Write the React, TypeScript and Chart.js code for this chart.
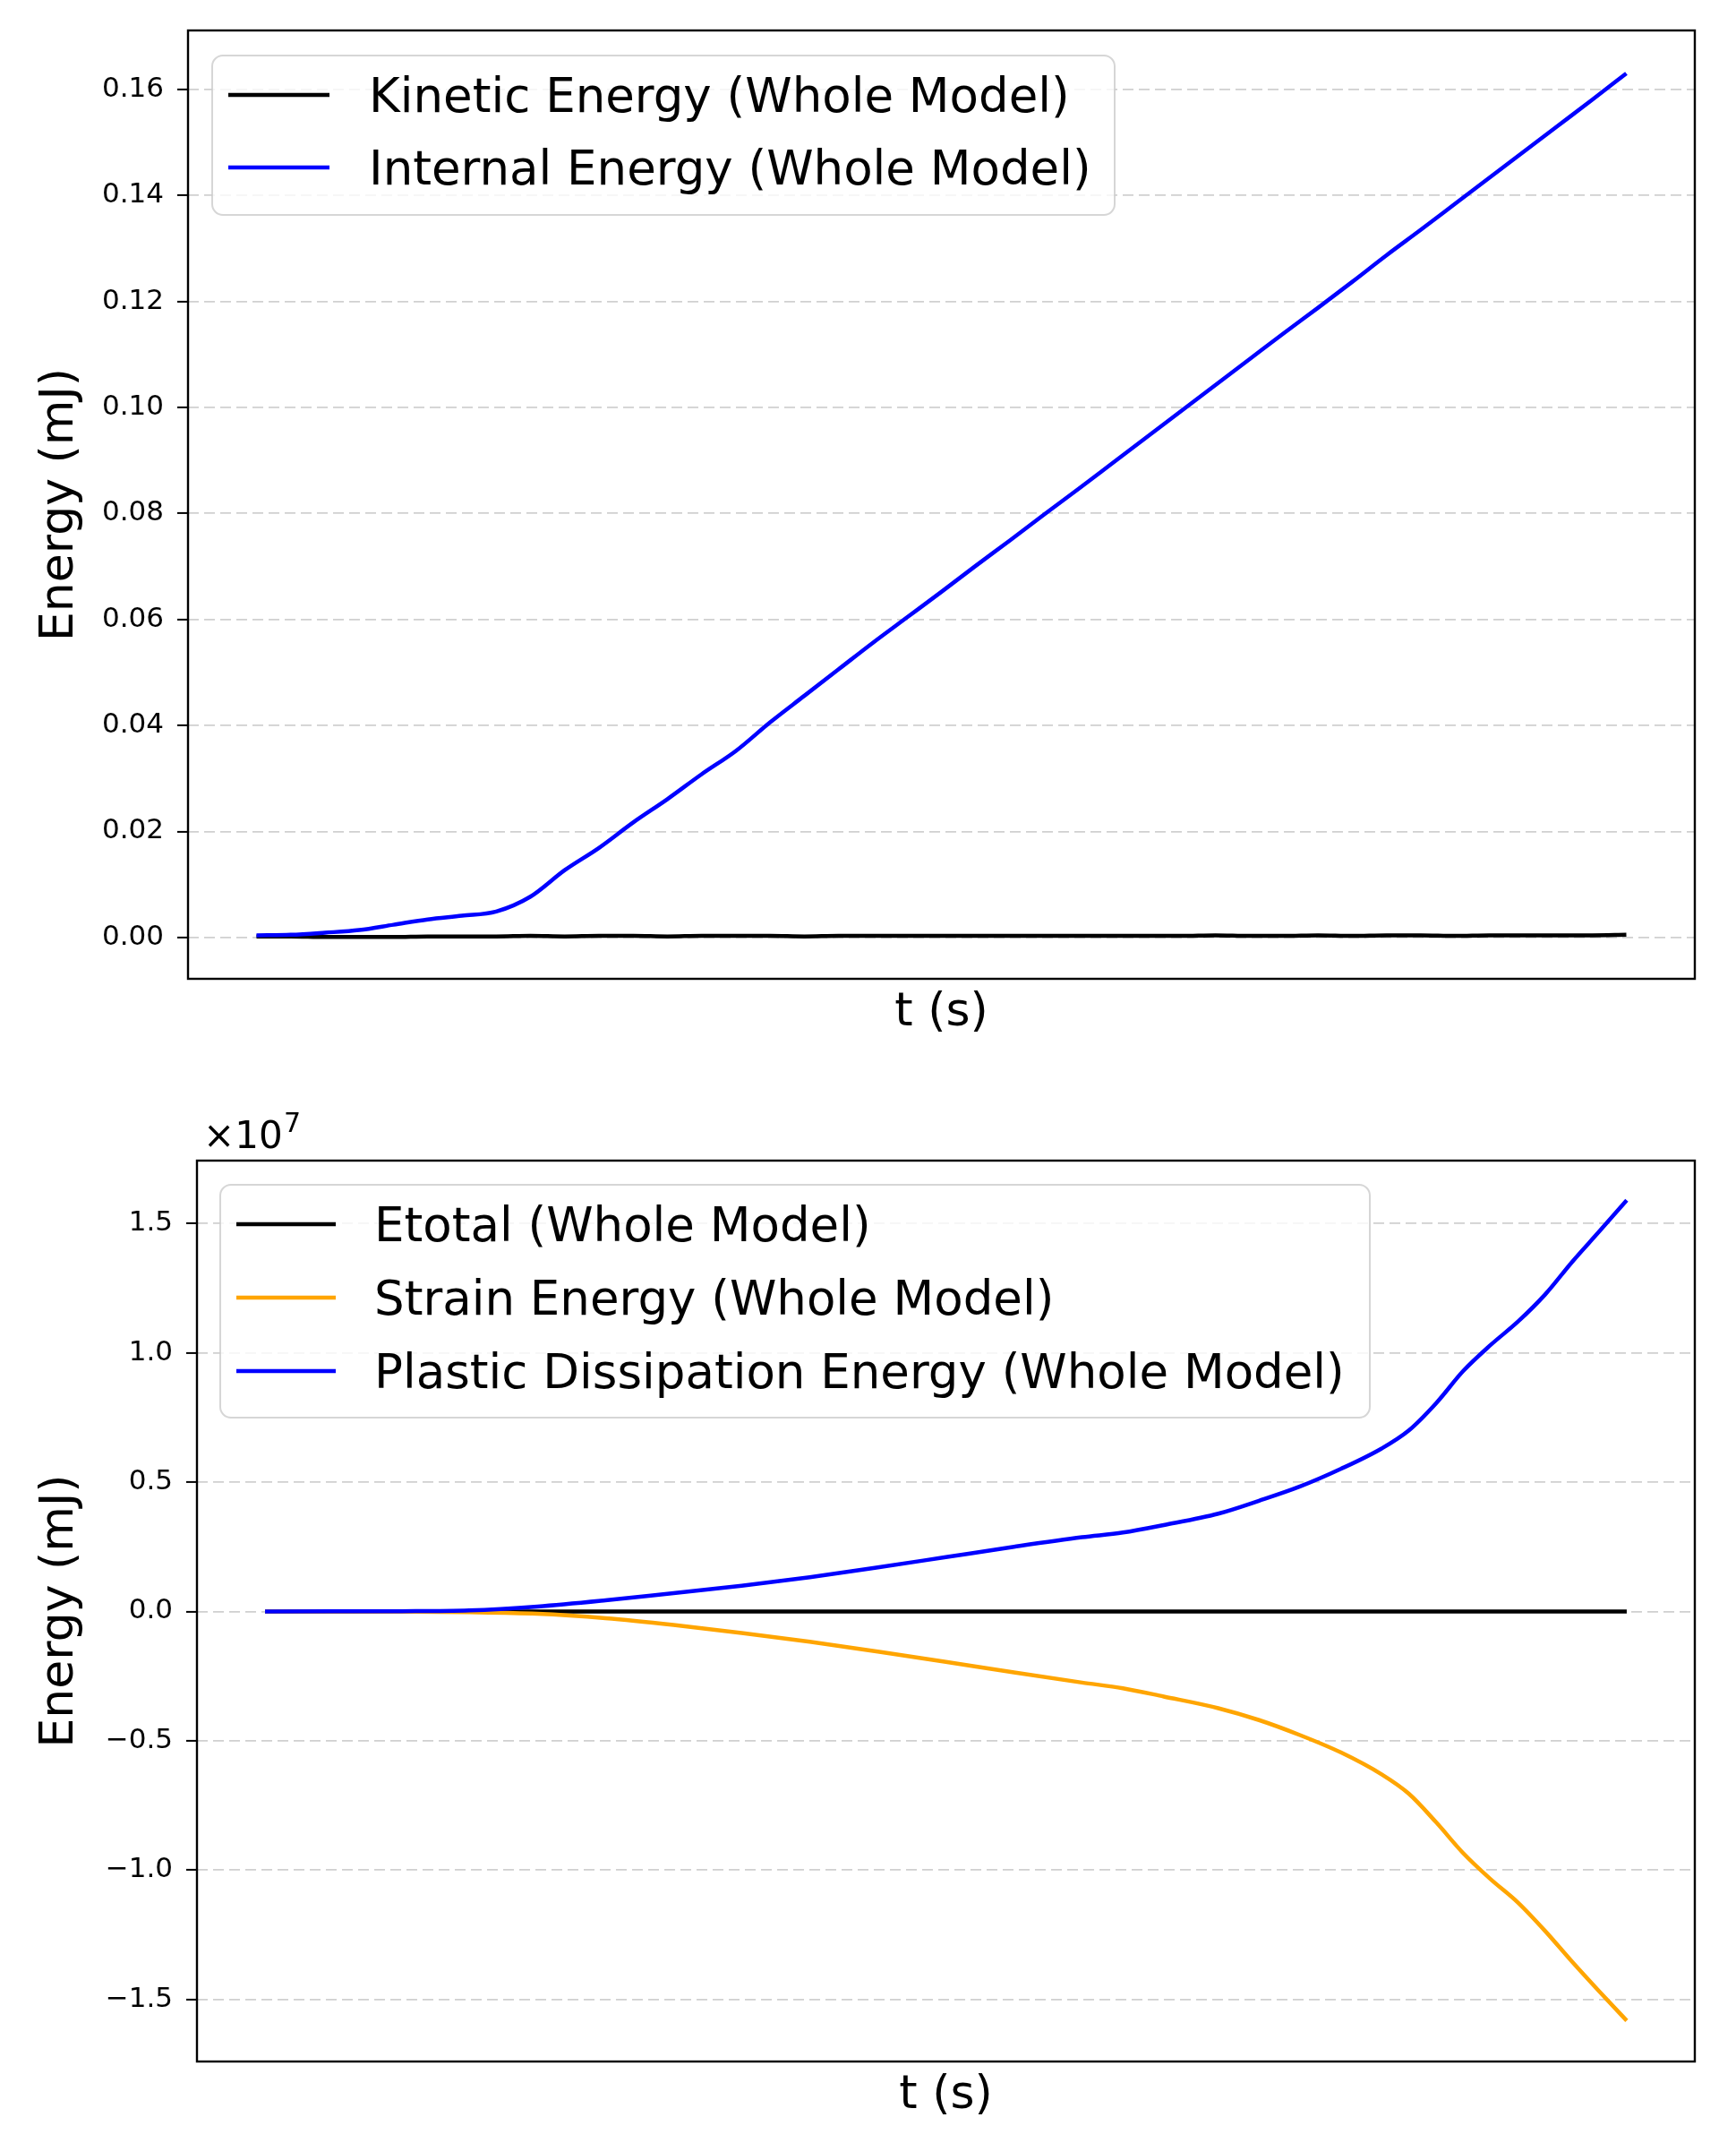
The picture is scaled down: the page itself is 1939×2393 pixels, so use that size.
import { useEffect, useRef } from 'react'
import { Chart, registerables } from 'chart.js'

Chart.register(...registerables)

const FONT = '"DejaVu Sans", "Liberation Sans", sans-serif'

// normalised time, the reference hides the x tick labels
const T_TOP = [
  0, 0.025, 0.05, 0.075, 0.1, 0.125, 0.15, 0.175, 0.2, 0.225, 0.25, 0.275, 0.3, 0.325,
  0.35, 0.375, 0.4, 0.425, 0.45, 0.475, 0.5, 0.525, 0.55, 0.575, 0.6, 0.625, 0.65,
  0.675, 0.7, 0.725, 0.75, 0.775, 0.8, 0.825, 0.85, 0.875, 0.9, 0.925, 0.95, 0.975, 1,
]
const KINETIC = [
  0.0002, 0.0002, 0.0001, 0.0001, 0.0001, 0.0002, 0.0002, 0.0002, 0.0003, 0.0002, 0.0003,
  0.0003, 0.0002, 0.0003, 0.0003, 0.0003, 0.0002, 0.0003, 0.0003, 0.0003, 0.0003, 0.0003,
  0.0003, 0.0003, 0.0003, 0.0003, 0.0003, 0.0003, 0.0004, 0.0003, 0.0003, 0.0004, 0.0003,
  0.0004, 0.0004, 0.0003, 0.0004, 0.0004, 0.0004, 0.0004, 0.0005,
]
const INTERNAL = [
  0.0004, 0.0005, 0.0009, 0.0014, 0.0024, 0.0034, 0.0041, 0.0049, 0.0077, 0.0127, 0.0169,
  0.0217, 0.0261, 0.0308, 0.0352, 0.0406, 0.0456, 0.0506, 0.0556, 0.0604, 0.0652, 0.0701,
  0.0749, 0.0798, 0.0846, 0.0895, 0.0944, 0.0993, 0.1042, 0.1091, 0.1140, 0.1188, 0.1237,
  0.1287, 0.1335, 0.1384, 0.1433, 0.1482, 0.1531, 0.1580, 0.1630,
]

const T_BOTTOM = [
  0, 0.05, 0.1, 0.15, 0.2, 0.25, 0.3, 0.35, 0.4, 0.45, 0.5, 0.55, 0.6, 0.63, 0.66, 0.7,
  0.73, 0.76, 0.79, 0.82, 0.84, 0.86, 0.88, 0.9, 0.92, 0.94, 0.96, 0.98, 1,
]
const ETOTAL = [
  0, 0, 0, 0, 0, 0, 0, 0, 0, 0, 0, 0, 0, 0, 0, 0, 0, 0, 0, 0, 0, 0, 0, 0, 0, 0, 0, 0, 0,
]
const STRAIN = [
  0, -0.0003, -0.001, -0.003, -0.009, -0.026, -0.052, -0.083, -0.117, -0.155, -0.195,
  -0.236, -0.275, -0.297, -0.329, -0.374, -0.42, -0.478, -0.545, -0.63, -0.705, -0.815,
  -0.935, -1.035, -1.125, -1.235, -1.355, -1.47, -1.582,
]
const PLASTIC = [
  0, 0.0005, 0.001, 0.004, 0.019, 0.043, 0.071, 0.099, 0.132, 0.17, 0.21, 0.25, 0.287,
  0.305, 0.334, 0.378, 0.428, 0.483, 0.551, 0.63, 0.7, 0.805, 0.93, 1.03, 1.12, 1.225,
  1.352, 1.47, 1.59,
]

const TOP_TICKS = [0, 0.02, 0.04, 0.06, 0.08, 0.1, 0.12, 0.14, 0.16]
const BOTTOM_TICKS = [-1.5, -1, -0.5, 0, 0.5, 1, 1.5]

const TOP_LABELS = ['Kinetic Energy (Whole Model)', 'Internal Energy (Whole Model)']
const BOTTOM_LABELS = [
  'Etotal (Whole Model)',
  'Strain Energy (Whole Model)',
  'Plastic Dissipation Energy (Whole Model)',
]

interface Series {
  label: string
  values: number[]
  color: string
  order: number
}

interface PanelSpec {
  top: number
  height: number
  area: { left: number; top: number; right: number; bottom: number }
  t: number[]
  series: Series[]
  yMin: number
  yMax: number
  yTicks: number[]
  fmt: (v: number) => string
  xTitlePad: number
  legend: { x: number; y: number; w: number; h: number; rows: number[]; h0: number; h1: number; tx: number }
  offsetText?: boolean
}

const TOP_SPEC: PanelSpec = {
  top: 0,
  height: 1190,
  area: { left: 210, top: 34, right: 1893, bottom: 1093 },
  t: T_TOP,
  series: [
    { label: TOP_LABELS[0], values: KINETIC, color: '#000000', order: 1 },
    { label: TOP_LABELS[1], values: INTERNAL, color: '#0000ff', order: 0 },
  ],
  yMin: -0.0078,
  yMax: 0.1711,
  yTicks: TOP_TICKS,
  fmt: (v) => v.toFixed(2),
  xTitlePad: 33,
  legend: { x: 237, y: 62, w: 1008, h: 178, rows: [106, 187], h0: 255, h1: 368, tx: 412 },
}

const BOTTOM_SPEC: PanelSpec = {
  top: 1190,
  height: 1203,
  area: { left: 220, top: 106, right: 1893, bottom: 1112 },
  t: T_BOTTOM,
  series: [
    { label: BOTTOM_LABELS[0], values: ETOTAL, color: '#000000', order: 2 },
    { label: BOTTOM_LABELS[1], values: STRAIN, color: '#ffa500', order: 1 },
    { label: BOTTOM_LABELS[2], values: PLASTIC, color: '#0000ff', order: 0 },
  ],
  yMin: -1.74,
  yMax: 1.743,
  yTicks: BOTTOM_TICKS,
  fmt: (v) => v.toFixed(1).replace('-', '\u2212'),
  xTitlePad: 27,
  legend: { x: 246, y: 133, w: 1284, h: 260, rows: [177, 259, 341], h0: 264, h1: 375, tx: 418 },
  offsetText: true,
}

function buildConfig(spec: PanelSpec): any {
  const lg = spec.legend

  const overlay = {
    id: 'overlay',
    afterDatasetsDraw(chart: any) {
      const { ctx, chartArea: a } = chart
      ctx.save()
      // axes frame
      ctx.strokeStyle = '#000'
      ctx.lineWidth = 2.4
      ctx.strokeRect(a.left, a.top, a.right - a.left, a.bottom - a.top)

      // legend
      ctx.beginPath()
      ctx.roundRect(lg.x, lg.y, lg.w, lg.h, 12)
      ctx.fillStyle = 'rgba(255,255,255,0.8)'
      ctx.fill()
      ctx.strokeStyle = 'rgba(204,204,204,0.8)'
      ctx.lineWidth = 2
      ctx.stroke()
      ctx.font = `53px ${FONT}`
      ctx.textBaseline = 'alphabetic'
      ctx.textAlign = 'left'
      chart.data.datasets.forEach((ds: any, i: number) => {
        const y = lg.rows[i]
        ctx.strokeStyle = ds.borderColor
        ctx.lineWidth = 4.5
        ctx.beginPath()
        ctx.moveTo(lg.h0, y)
        ctx.lineTo(lg.h1, y)
        ctx.stroke()
        ctx.fillStyle = '#000'
        ctx.fillText(ds.label, lg.tx, y + 19)
      })

      if (spec.offsetText) {
        ctx.fillStyle = '#000'
        ctx.font = `42px ${FONT}`
        ctx.fillText('\u00d710', 227, 92)
        ctx.font = `30px ${FONT}`
        ctx.fillText('7', 317, 74)
      }
      ctx.restore()
    },
  }

  return {
    type: 'line',
    data: {
      datasets: spec.series.map((s) => ({
        label: s.label,
        data: spec.t.map((t, j) => ({ x: t, y: s.values[j] })),
        borderColor: s.color,
        backgroundColor: s.color,
        borderWidth: 4.5,
        pointRadius: 0,
        cubicInterpolationMode: 'monotone',
        order: s.order,
      })),
    },
    options: {
      animation: false,
      responsive: true,
      maintainAspectRatio: false,
      layout: { padding: { top: spec.area.top, right: 1939 - spec.area.right, left: 0, bottom: 0 } },
      plugins: { legend: { display: false }, tooltip: { enabled: false } },
      scales: {
        x: {
          type: 'linear',
          min: -0.05,
          max: 1.05,
          grid: { display: false },
          border: { display: false },
          ticks: { display: false },
          title: {
            display: true,
            text: 't (s)',
            color: '#000',
            font: { family: FONT, size: 52, lineHeight: 1 },
            padding: { top: 0, bottom: spec.xTitlePad },
          },
          afterFit: (s: any) => {
            s.height = spec.height - spec.area.bottom
          },
        },
        y: {
          type: 'linear',
          min: spec.yMin,
          max: spec.yMax,
          afterBuildTicks: (s: any) => {
            s.ticks = spec.yTicks.map((v) => ({ value: v }))
          },
          afterFit: (s: any) => {
            s.width = spec.area.left
          },
          grid: {
            color: '#d0d0d0',
            lineWidth: 1.8,
            tickColor: '#000',
            tickWidth: 2,
            tickLength: 12,
            tickBorderDash: [],
          },
          border: { display: false, dash: [12, 6] },
          ticks: {
            padding: 15,
            color: '#000',
            font: { family: FONT, size: 31 },
            callback: (v: any) => spec.fmt(Number(v)),
          },
          title: {
            display: true,
            text: 'Energy (mJ)',
            color: '#000',
            font: { family: FONT, size: 52, lineHeight: 1 },
            padding: { top: 41, bottom: 0 },
          },
        },
      },
    },
    plugins: [overlay],
  }
}

function Panel({ spec }: { spec: PanelSpec }) {
  const canvasRef = useRef<HTMLCanvasElement>(null)

  useEffect(() => {
    if (!canvasRef.current) return
    const chart = new Chart(canvasRef.current, buildConfig(spec))
    return () => {
      chart.destroy()
    }
  }, [spec])

  return (
    <div style={{ position: 'absolute', left: 0, top: spec.top, width: 1939, height: spec.height }}>
      <canvas ref={canvasRef} />
    </div>
  )
}

export default function App() {
  return (
    <div style={{ position: 'absolute', left: 0, top: 0, width: 1939, height: 2393, background: '#fff' }}>
      <Panel spec={TOP_SPEC} />
      <Panel spec={BOTTOM_SPEC} />
    </div>
  )
}
